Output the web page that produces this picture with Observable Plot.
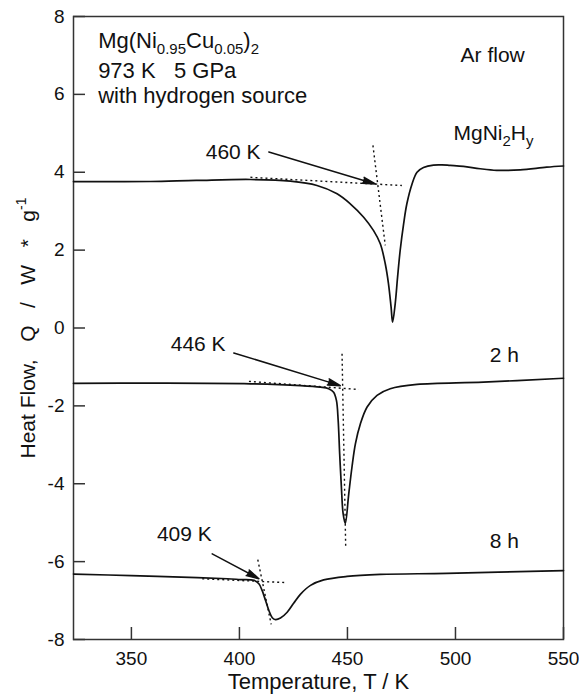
<!DOCTYPE html>
<html><head><meta charset="utf-8">
<script src="https://cdn.jsdelivr.net/npm/d3@7"></script>
<script src="https://cdn.jsdelivr.net/npm/@observablehq/plot@0.6"></script>
<style>
body{margin:0;background:#fff;}
svg text{white-space:pre;}
</style></head><body><div id="chart"></div>
<script>
// ---- data ----
const xTicks = [350, 400, 450, 500, 550];
const yTicks = [-8, -6, -4, -2, 0, 2, 4, 6, 8];

// MgNi2Hy (as synthesized)
const mgT = [323.2, 340, 358.9, 380, 405.1, 423.6, 435.9, 445.2, 451.3, 457.5, 462.1, 465.2, 467.5, 469.0, 470.2, 470.9, 472.1, 473.2, 474.4, 476.0, 477.5, 479.9, 482.2, 485.2, 489.8, 493.7, 497.6, 503.7, 511.4, 519.1, 529.9, 542.2, 550];
const mgQ = [3.76, 3.76, 3.763, 3.79, 3.814, 3.771, 3.66, 3.447, 3.19, 2.846, 2.50, 2.163, 1.65, 1.136, 0.535, 0.15, 0.622, 1.305, 1.99, 2.676, 3.19, 3.70, 4.00, 4.12, 4.185, 4.19, 4.175, 4.15, 4.09, 4.05, 4.06, 4.13, 4.16];

// 2 h
const h2T = [323.2, 358.9, 405.1, 428.3, 437.5, 441.3, 443.6, 444.9, 445.7, 446.4, 447.2, 448.0, 449.0, 450.6, 452.1, 453.7, 456.0, 459.1, 463.7, 469.8, 482.2, 512.9, 550];
const h2Q = [-1.42, -1.417, -1.433, -1.48, -1.52, -1.56, -1.65, -1.86, -2.37, -3.23, -4.09, -4.77, -5.02, -4.26, -3.57, -2.97, -2.46, -2.03, -1.73, -1.56, -1.45, -1.39, -1.29];

// 8 h
const h8T = [323.2, 350, 380.5, 394.4, 400.5, 406.7, 409.0, 410.5, 412.1, 413.6, 415.2, 416.7, 419.0, 422.1, 425.1, 428.2, 432.9, 439.0, 449.8, 465.2, 496, 550];
const h8Q = [-6.32, -6.36, -6.41, -6.44, -6.46, -6.48, -6.57, -6.74, -7.0, -7.25, -7.44, -7.49, -7.45, -7.30, -7.07, -6.84, -6.61, -6.47, -6.38, -6.33, -6.30, -6.23];

// dotted onset tangents
const tanT1 = [405.1, 461.8, 404.4, 447.5, 382.8, 408.5];
const tanQ1 = [3.87, 4.69, -1.37, -0.66, -6.44, -5.95];
const tanT2 = [475.2, 467.5, 455.2, 449.2, 422.1, 414.7];
const tanQ2 = [3.66, 2.12, -1.58, -5.66, -6.54, -7.61];

// onset annotations
const annoText = ["460 K", "446 K", "409 K"];
const annoT = [409.8, 393.6, 387.2];
const annoQ = [4.52, -0.41, -5.30];
const arrowT1 = [413.6, 397.4, 387.4];
const arrowQ1 = [4.52, -0.64, -5.80];
const arrowT2 = [462.9, 446.7, 409.0];
const arrowQ2 = [3.70, -1.48, -6.44];

// curve labels
const curveLabel = ["Ar flow", "MgNi{_2}H{_y}", "2 h", "8 h"];
const curveLabelT = [517.2, 517.6, 522.6, 522.6];
const curveLabelQ = [7.0, 4.99, -0.71, -5.47];

// sample info
const infoText = ["Mg(Ni{_0.95}Cu{_0.05}){_2}", "973 K   5 GPa", "with hydrogen source"];
const infoT = [334.6, 334.6, 334.6];
const infoQ = [7.38, 6.6, 5.97];

const xTitle = "Temperature, T / K";
const yTitle = "Heat Flow,   Q   /   W   *   g{^-1}";

// ---- build tables ----
const rows = [
  ...mgT.map((t, i) => ({name: "MgNi2Hy", T: t, Q: mgQ[i]})),
  ...h2T.map((t, i) => ({name: "2 h", T: t, Q: h2Q[i]})),
  ...h8T.map((t, i) => ({name: "8 h", T: t, Q: h8Q[i]}))
];
const tangents = tanT1.map((t, i) => ({x1: t, y1: tanQ1[i], x2: tanT2[i], y2: tanQ2[i]}));
const arrows = arrowT1.map((t, i) => ({x1: t, y1: arrowQ1[i], x2: arrowT2[i], y2: arrowQ2[i]}));
const annos = annoText.map((s, i) => ({text: s, x: annoT[i], y: annoQ[i]}));
const clabels = curveLabel.map((s, i) => ({text: s, x: curveLabelT[i], y: curveLabelQ[i]}));
const infos = infoText.map((s, i) => ({text: s, x: infoT[i], y: infoQ[i]}));

const W = 579, H = 697;
const mL = 73, mR = 16, mT = 16, mB = 58;
const innerW = W - mL - mR, innerH = H - mT - mB;
const ink = "#111";
const font = "Liberation Sans, Arial, Helvetica, sans-serif";

const chart = Plot.plot({
  width: W, height: H,
  marginLeft: mL, marginRight: mR, marginTop: mT, marginBottom: mB,
  style: {fontFamily: font, fontSize: "19px", color: ink, background: "#fff"},
  x: {domain: [323.2, 550], ticks: xTicks, tickSize: 0, tickPadding: 12, tickFormat: d => String(d), label: null},
  y: {domain: [-8, 8], ticks: yTicks, tickSize: 0, tickPadding: 9, tickFormat: d => String(d), label: null},
  marks: [
    Plot.tickY(yTicks, {y: d => d, stroke: "#333", strokeWidth: 1.5, insetRight: innerW - 12}),
    Plot.tickX(xTicks, {x: d => d, stroke: "#333", strokeWidth: 1.5, insetTop: innerH - 12}),
    Plot.frame({stroke: "#333", strokeWidth: 1.5}),
    Plot.link(tangents, {x1: "x1", y1: "y1", x2: "x2", y2: "y2", stroke: ink, strokeWidth: 1.4, strokeDasharray: "2,3"}),
    Plot.line(rows, {x: "T", y: "Q", z: "name", stroke: ink, strokeWidth: 1.7, curve: "catmull-rom"}),
    Plot.arrow(arrows, {x1: "x1", y1: "y1", x2: "x2", y2: "y2", stroke: ink, fill: ink, strokeWidth: 1.5, headLength: 13, headAngle: 28}),
    Plot.text(annos, {x: "x", y: "y", text: "text", textAnchor: "end", fontSize: 21, fill: ink}),
    Plot.text(clabels, {x: "x", y: "y", text: "text", textAnchor: "middle", fontSize: 21, fill: ink}),
    Plot.text(infos, {x: "x", y: "y", text: "text", textAnchor: "start", fontSize: 22, fill: ink}),
    Plot.text([xTitle], {text: d => d, frameAnchor: "bottom", textAnchor: "middle", dy: 49, fontSize: 22, fill: ink}),
    Plot.text([yTitle], {text: d => d, frameAnchor: "left", textAnchor: "middle", dx: -45, rotate: -90, fontSize: 21, fill: ink})
  ]
});

// rich text: {_x} subscript, {^x} superscript
const NS = "http://www.w3.org/2000/svg";
chart.querySelectorAll("text").forEach(t => {
  const s = t.textContent;
  if (!/\{[_^]/.test(s)) return;
  const re = /\{([_^])([^}]*)\}/g;
  const parts = [];
  let last = 0, m;
  while ((m = re.exec(s))) {
    if (m.index > last) parts.push({kind: "", text: s.slice(last, m.index)});
    parts.push({kind: m[1], text: m[2]});
    last = re.lastIndex;
  }
  if (last < s.length) parts.push({kind: "", text: s.slice(last)});
  while (t.firstChild) t.removeChild(t.firstChild);
  let off = 0;
  for (const p of parts) {
    const ts = document.createElementNS(NS, "tspan");
    const target = p.kind === "_" ? 6 : p.kind === "^" ? -9 : 0;
    if (target !== off) { ts.setAttribute("dy", target - off); off = target; }
    if (p.kind) ts.setAttribute("font-size", p.kind === "_" ? 15 : 14);
    ts.textContent = p.text;
    t.appendChild(ts);
  }
});

document.getElementById("chart").appendChild(chart);
</script>
</body></html>
